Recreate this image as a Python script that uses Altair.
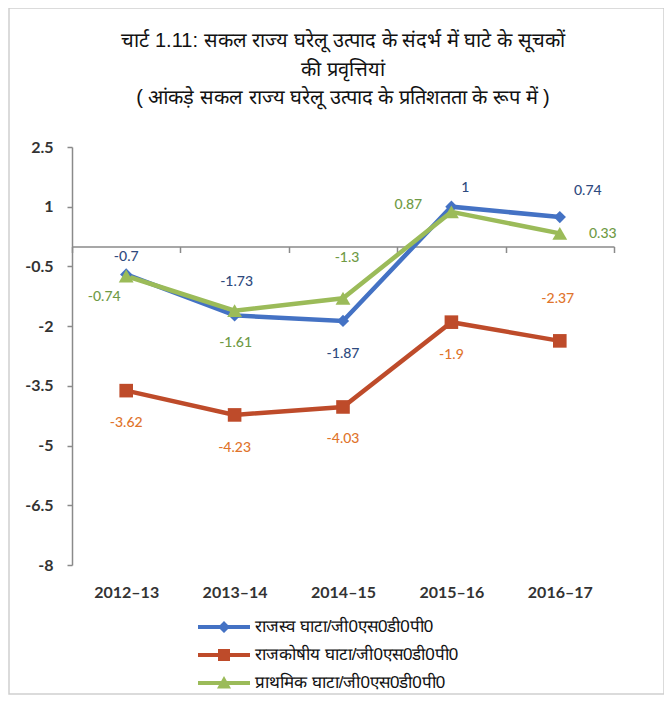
import altair as alt
import pandas as pd

years = ["2012-13", "2013-14", "2014-15", "2015-16", "2016-17"]
series_names = [
    "राजस्व घाटा/जी0एस0डी0पी0",
    "राजकोषीय घाटा/जी0एस0डी0पी0",
    "प्राथमिक घाटा/जी0एस0डी0पी0",
]
revenue = [-0.7, -1.73, -1.87, 1.0, 0.74]
fiscal = [-3.62, -4.23, -4.03, -1.9, -2.37]
primary = [-0.74, -1.61, -1.3, 0.87, 0.33]
y_ticks = [2.5, 1, -0.5, -2, -3.5, -5, -6.5, -8]

title_l1 = "चार्ट 1.11: सकल राज्य घरेलू उत्पाद के संदर्भ में घाटे के सूचकों"
title_l2 = "की प्रवृत्तियां"
title_l3 = "( आंकड़े सकल राज्य घरेलू उत्पाद के प्रतिशतता के रूप में )"

line_colors = ["#4472C4", "#BE4B2A", "#9BBB59"]
text_colors = ["#2E4A7E", "#E0742C", "#6F9A45"]
marker_shapes = ["diamond", "square", "triangle-up"]
marker_sizes = [150, 220, 230]
# legend symbols: line segment with marker (unit = 10px for symbolSize 400)
legend_shapes = [
    "M-2.6,-0.2H2.6V0.2H-2.6Z M0,-0.6L0.6,0L0,0.6L-0.6,0Z",
    "M-2.6,-0.2H2.6V0.2H-2.6Z M-0.6,-0.6H0.6V0.6H-0.6Z",
    "M-2.6,-0.2H2.6V0.2H-2.6Z M0,-0.7L0.7,0.55H-0.7Z",
]

# label offsets (pixels) per series / year
label_offsets = [
    [(0, -17), (2, -33), (0, 33), (14, -19), (28, -26)],
    [(0, 32), (0, 33), (0, 32), (0, 33), (-2, -42)],
    [(-22, 21), (1, 32), (4, -40), (-43, -7), (43, 1)],
]

rows = []
for si, (name, vals) in enumerate(zip(series_names, [revenue, fiscal, primary])):
    for yi, (yr, v) in enumerate(zip(years, vals)):
        rows.append({"series": name, "year": yr, "value": v, "label": f"{v:g}",
                     "key": f"{si}-{yi}"})
df = pd.DataFrame(rows)

W, H = 542, 418
ymin, ymax = -8, 2.5
zero_off = -(H - H * (ymax - 0) / (ymax - ymin))

x_enc = alt.X(
    "year:N",
    sort=years,
    scale=alt.Scale(type="band", domain=years, paddingInner=0, paddingOuter=0),
    axis=alt.Axis(
        title=None, orient="bottom", offset=zero_off, domain=True,
        domainColor="#8a8a8a", domainWidth=1.5, ticks=True, tickBand="extent",
        tickColor="#8a8a8a", tickWidth=1.5, tickSize=6, labelPadding=-zero_off + 13,
        labelFont="Lato", labelFontWeight="bold", labelFontSize=16,
        labelColor="#333333", labelAngle=0,
        labelExpr="replace(datum.label, '-', '–')",
    ),
)
y_enc = alt.Y(
    "value:Q",
    scale=alt.Scale(domain=[ymin, ymax], nice=False, zero=False),
    axis=alt.Axis(
        title=None, values=y_ticks, grid=False, domainColor="#8a8a8a",
        domainWidth=1.5, tickColor="#8a8a8a", tickWidth=1.5, tickSize=5,
        labelPadding=14, labelFont="Lato", labelFontWeight="bold",
        labelFontSize=16, labelColor="#333333",
        labelExpr="toString(datum.value)",
    ),
)

color_scale = alt.Scale(domain=series_names, range=line_colors)
base = alt.Chart(df).encode(x=x_enc, y=y_enc)

lines = base.mark_line(strokeWidth=4.5).encode(
    color=alt.Color("series:N", scale=color_scale, legend=None),
    detail="series:N",
)
points = base.mark_point(filled=True, opacity=1).encode(
    color=alt.Color("series:N", scale=color_scale, legend=None),
    shape=alt.Shape("series:N", scale=alt.Scale(domain=series_names, range=marker_shapes), legend=None),
    size=alt.Size("series:N", scale=alt.Scale(domain=series_names, range=marker_sizes), legend=None),
)

label_layers = []
for si in range(3):
    for yi in range(5):
        dx, dy = label_offsets[si][yi]
        label_layers.append(
            base.transform_filter(alt.datum.key == f"{si}-{yi}")
            .mark_text(dx=dx, dy=dy, font="Lato", fontSize=14, fontWeight=500,
                       color=text_colors[si])
            .encode(text="label:N")
        )

legend_props = dict(
    title=None, orient="none", legendX=142, legendY=470, direction="vertical",
    symbolSize=400, symbolStrokeWidth=0, labelFontSize=17, labelColor="#111111",
    labelLimit=400, rowPadding=10, labelOffset=21, padding=0,
)
legend_df = pd.DataFrame({"series": series_names, "year": [years[0]] * 3})
legend_layer = alt.Chart(legend_df).mark_point(filled=True, opacity=1, size=400, clip=True).encode(
    x=alt.X("year:N", sort=years),
    y=alt.datum(100),
    color=alt.Color("series:N", scale=color_scale, legend=alt.Legend(**legend_props)),
    shape=alt.Shape(
        "series:N", scale=alt.Scale(domain=series_names, range=legend_shapes),
        legend=alt.Legend(**legend_props),
    ),
)

frame = alt.Chart(pd.DataFrame({"a": [0]})).mark_rect(
    fill=None, stroke="#cfcfcf", strokeWidth=1.5, fillOpacity=0
).encode(
    x=alt.value(-63), x2=alt.value(592), y=alt.value(-139), y2=alt.value(547)
)

chart = alt.layer(
    frame, lines, points, *label_layers, legend_layer
).resolve_scale(
    color="independent", shape="independent", size="independent"
).properties(
    width=W, height=H,
    title=alt.Title(
        text=[title_l1, title_l2], subtitle=title_l3, anchor="middle",
        fontSize=20, fontWeight="normal", color="#111111", lineHeight=29,
        subtitleFontSize=20, subtitleFontWeight="normal", subtitleColor="#111111",
        subtitlePadding=8, offset=-101,
    ),
    autosize=alt.AutoSizeParams(type="none"),
    padding={"left": 64, "top": 139, "right": 50, "bottom": 131},
).configure_view(stroke=None)

chart.save("out.html", embed_options={"renderer": "svg", "actions": False})
